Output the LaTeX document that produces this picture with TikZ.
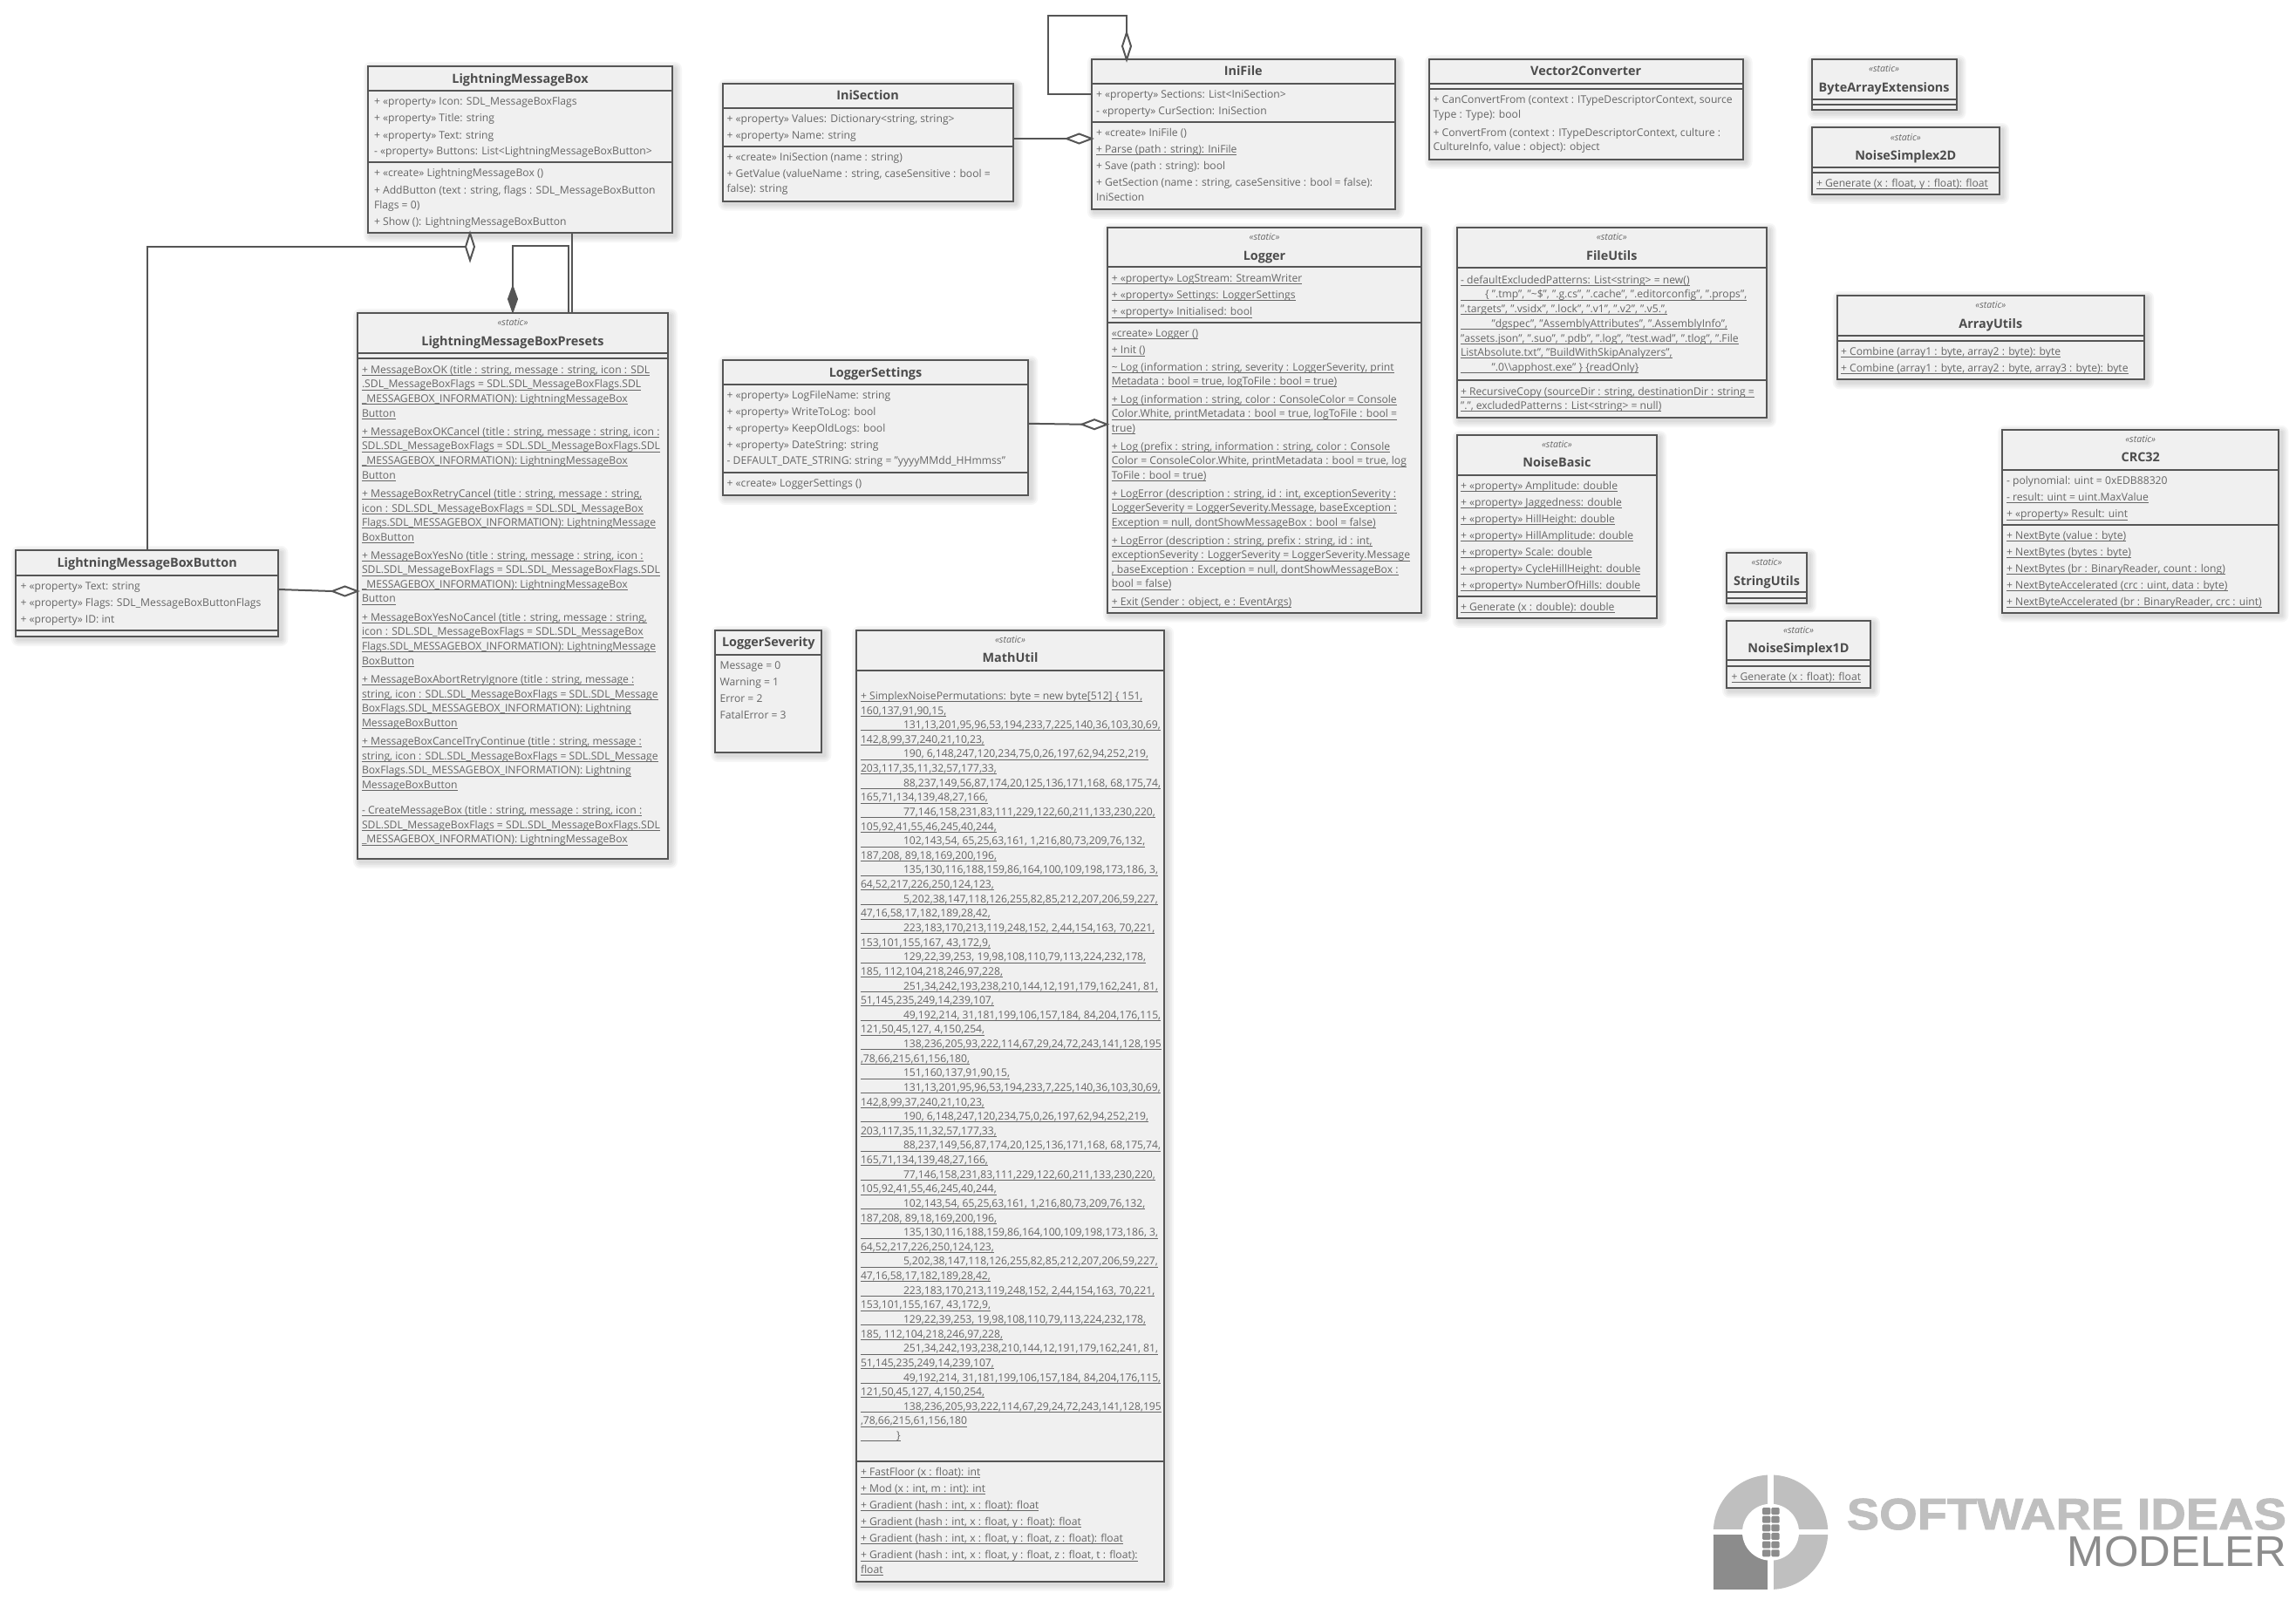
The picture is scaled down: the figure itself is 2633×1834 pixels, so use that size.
\documentclass[tikz,border=0pt]{standalone}
\usepackage{fontspec}
\usepackage{graphicx}
\setmainfont{Open Sans}
\newfontfamily\logofont{Liberation Sans}
\newfontfamily\logobold[FakeBold=1.6]{Liberation Sans Bold}
\usetikzlibrary{shapes.geometric}
\definecolor{ln}{HTML}{555555}
\definecolor{tx}{HTML}{666666}
\definecolor{tt}{HTML}{4C4C4C}
\definecolor{bg}{HTML}{F0F0F0}
\definecolor{lgA}{HTML}{BFBFBF}
\definecolor{lgB}{HTML}{8C8C8C}
\newcount\tcnt
\newsavebox\ulbox
\newcommand\uln[1]{\sbox\ulbox{#1}\rlap{\rule[-2.6pt]{\wd\ulbox}{0.8pt}}\usebox\ulbox}
\newcommand\tline[3]{\global\advance\tcnt by 1 \node[txt](t\the\tcnt) at (#1,#2+4) {#3};}
\newcommand\ut[3]{\tline{#1}{#2}{\uln{#3}}}
\newcommand\ttl[3]{\global\advance\tcnt by 1 \node[ttls](t\the\tcnt) at (#1.center |- 0,#2+5.5) {#3};}
\newcommand\ster[2]{\global\advance\tcnt by 1 \node[sters](t\the\tcnt) at (#1.center |- 0,#2+3.5) {«static»};}
\newcommand\cls[5]{%
  \foreach \d in {8,6,4,2}{\fill[shad,rounded corners=\d pt] (#2+3-\d,#3+3-\d) rectangle (#4+3+\d,#5+3+\d);}
  \node[cbox,minimum width={(#4-#2)*1pt},minimum height={(#5-#3)*1pt}] (#1) at ({(#2+#4)/2},{(#3+#5)/2}) {};}
\newcommand\hsep[2]{\draw[sepl] (#1.west |- 0,#2) -- (#1.east |- 0,#2);}
\newcommand\mline[2]{\ut{987}{798.4+16.63*#1}{#2}}
\newcommand\mlin[2]{\ut{987}{798.4+16.63*#1}{\hspace*{49pt}#2}}
\tikzset{
  txt/.style={anchor=base west,inner sep=0pt,outer sep=0pt,text=tx,font=\fontsize{12.15pt}{13pt}\selectfont},
  ttls/.style={anchor=base,inner sep=0pt,outer sep=0pt,text=tt,font=\fontsize{14.4pt}{16pt}\selectfont\bfseries},
  sters/.style={anchor=base,inner sep=0pt,outer sep=0pt,text=tx,font=\fontsize{10.6pt}{11pt}\selectfont\itshape},
  cbox/.style={draw=ln,fill=bg,line width=2pt,inner sep=0pt,outer sep=0pt,rectangle},
  sepl/.style={draw=ln,line width=2pt},
  shad/.style={fill=black,opacity=.035},
  conn/.style={draw=ln,line width=2pt,line join=miter},
  odia/.style={diamond,draw=ln,fill=white,line width=2pt,inner sep=0pt,outer sep=0pt},
  fdia/.style={diamond,draw=ln,fill=ln,line width=2pt,inner sep=0pt,outer sep=0pt},
  vdia/.style={minimum width=10pt,minimum height=31pt},
  hdia/.style={minimum width=29pt,minimum height=11pt},
  lgt/.style={anchor=base east,inner sep=0pt,outer sep=0pt},
}
\begin{document}
\begin{tikzpicture}[x=1pt,y=-1pt]
\useasboundingbox (0,0) rectangle (2633,1834);
\fill[white] (0,0) rectangle (2633,1834);

%% LightningMessageBox
\cls{lmb}{422}{76}{771}{267}
\hsep{lmb}{103.7}\hsep{lmb}{185.7}
\ttl{lmb}{89.5}{LightningMessageBox}
\tline{429}{116.7}{+ «property» Icon: SDL\_MessageBoxFlags}
\tline{429}{135.7}{+ «property» Title: string}
\tline{429}{155}{+ «property» Text: string}
\tline{429}{173.7}{- «property» Buttons: List<LightningMessageBoxButton>}
\tline{429}{198.7}{+ «create» LightningMessageBox ()}
\tline{429}{218}{+ AddButton (text : string, flags : SDL\_MessageBoxButton}
\tline{429}{235}{Flags = 0)}
\tline{429}{254.7}{+ Show (): LightningMessageBoxButton}

%% LightningMessageBoxPresets
\cls{pre}{410}{359}{766}{985}
\hsep{pre}{405}\hsep{pre}{410.7}
\ster{pre}{370}
\ttl{pre}{390.5}{LightningMessageBoxPresets}
\ut{415}{424.2}{+ MessageBoxOK (title : string, message : string, icon : SDL}
\ut{415}{440.8}{.SDL\_MessageBoxFlags = SDL.SDL\_MessageBoxFlags.SDL}
\ut{415}{457.4}{\_MESSAGEBOX\_INFORMATION): LightningMessageBox}
\ut{415}{474}{Button}
\ut{415}{495.3}{+ MessageBoxOKCancel (title : string, message : string, icon :}
\ut{415}{511.9}{SDL.SDL\_MessageBoxFlags = SDL.SDL\_MessageBoxFlags.SDL}
\ut{415}{528.5}{\_MESSAGEBOX\_INFORMATION): LightningMessageBox}
\ut{415}{545.1}{Button}
\ut{415}{566.4}{+ MessageBoxRetryCancel (title : string, message : string,}
\ut{415}{583}{icon : SDL.SDL\_MessageBoxFlags = SDL.SDL\_MessageBox}
\ut{415}{599.6}{Flags.SDL\_MESSAGEBOX\_INFORMATION): LightningMessage}
\ut{415}{616.2}{BoxButton}
\ut{415}{637.1}{+ MessageBoxYesNo (title : string, message : string, icon :}
\ut{415}{653.7}{SDL.SDL\_MessageBoxFlags = SDL.SDL\_MessageBoxFlags.SDL}
\ut{415}{670.3}{\_MESSAGEBOX\_INFORMATION): LightningMessageBox}
\ut{415}{686.9}{Button}
\ut{415}{708.3}{+ MessageBoxYesNoCancel (title : string, message : string,}
\ut{415}{724.9}{icon : SDL.SDL\_MessageBoxFlags = SDL.SDL\_MessageBox}
\ut{415}{741.5}{Flags.SDL\_MESSAGEBOX\_INFORMATION): LightningMessage}
\ut{415}{758.1}{BoxButton}
\ut{415}{779.4}{+ MessageBoxAbortRetryIgnore (title : string, message :}
\ut{415}{796}{string, icon : SDL.SDL\_MessageBoxFlags = SDL.SDL\_Message}
\ut{415}{812.6}{BoxFlags.SDL\_MESSAGEBOX\_INFORMATION): Lightning}
\ut{415}{829.2}{MessageBoxButton}
\ut{415}{850.5}{+ MessageBoxCancelTryContinue (title : string, message :}
\ut{415}{867.1}{string, icon : SDL.SDL\_MessageBoxFlags = SDL.SDL\_Message}
\ut{415}{883.7}{BoxFlags.SDL\_MESSAGEBOX\_INFORMATION): Lightning}
\ut{415}{900.3}{MessageBoxButton}
\ut{415}{929.6}{- CreateMessageBox (title : string, message : string, icon :}
\ut{415}{946.2}{SDL.SDL\_MessageBoxFlags = SDL.SDL\_MessageBoxFlags.SDL}
\ut{415}{962.8}{\_MESSAGEBOX\_INFORMATION): LightningMessageBox}

%% LightningMessageBoxButton
\cls{btn}{18}{631}{319.4}{730}
\hsep{btn}{660}\hsep{btn}{723}
\ttl{btn}{645}{LightningMessageBoxButton}
\tline{23.5}{672.5}{+ «property» Text: string}
\tline{23.5}{691.4}{+ «property» Flags: SDL\_MessageBoxButtonFlags}
\tline{23.5}{710.4}{+ «property» ID: int}

%% IniSection
\cls{isec}{828.7}{96}{1161.5}{230.5}
\hsep{isec}{124}\hsep{isec}{168}
\ttl{isec}{109.3}{IniSection}
\tline{833.6}{136.4}{+ «property» Values: Dictionary<string, string>}
\tline{833.6}{155.6}{+ «property» Name: string}
\tline{833.6}{180.4}{+ «create» IniSection (name : string)}
\tline{833.6}{199.7}{+ GetValue (valueName : string, caseSensitive : bool =}
\tline{833.6}{216.7}{false): string}

%% IniFile
\cls{ifil}{1252}{68.4}{1599.5}{240}
\hsep{ifil}{96}\hsep{ifil}{140}
\ttl{ifil}{81.3}{IniFile}
\tline{1257}{108.4}{+ «property» Sections: List<IniSection>}
\tline{1257}{127.6}{- «property» CurSection: IniSection}
\tline{1257}{152.4}{+ «create» IniFile ()}
\ut{1257}{171.3}{+ Parse (path : string): IniFile}
\tline{1257}{190.5}{+ Save (path : string): bool}
\tline{1257}{209.8}{+ GetSection (name : string, caseSensitive : bool = false):}
\tline{1257}{226.4}{IniSection}

%% Logger
\cls{lgr}{1270}{261}{1630}{702.5}
\hsep{lgr}{306}\hsep{lgr}{369.6}
\ster{lgr}{272}
\ttl{lgr}{293}{Logger}
\ut{1274.8}{319.6}{+ «property» LogStream: StreamWriter}
\ut{1274.8}{338.4}{+ «property» Settings: LoggerSettings}
\ut{1274.8}{357.7}{+ «property» Initialised: bool}
\ut{1274.8}{382.5}{«create» Logger ()}
\ut{1274.8}{401.7}{+ Init ()}
\ut{1274.8}{421}{\textasciitilde{} Log (information : string, severity : LoggerSeverity, print}
\ut{1274.8}{437.6}{Metadata : bool = true, logToFile : bool = true)}
\ut{1274.8}{458.2}{+ Log (information : string, color : ConsoleColor = Console}
\ut{1274.8}{474.8}{Color.White, printMetadata : bool = true, logToFile : bool =}
\ut{1274.8}{491.3}{true)}
\ut{1274.8}{512.4}{+ Log (prefix : string, information : string, color : Console}
\ut{1274.8}{528.9}{Color = ConsoleColor.White, printMetadata : bool = true, log}
\ut{1274.8}{545.5}{ToFile : bool = true)}
\ut{1274.8}{566.1}{+ LogError (description : string, id : int, exceptionSeverity :}
\ut{1274.8}{582.6}{LoggerSeverity = LoggerSeverity.Message, baseException :}
\ut{1274.8}{599.2}{Exception = null, dontShowMessageBox : bool = false)}
\ut{1274.8}{620.3}{+ LogError (description : string, prefix : string, id : int,}
\ut{1274.8}{636.8}{exceptionSeverity : LoggerSeverity = LoggerSeverity.Message}
\ut{1274.8}{653.4}{, baseException : Exception = null, dontShowMessageBox :}
\ut{1274.8}{669.9}{bool = false)}
\ut{1274.8}{690.5}{+ Exit (Sender : object, e : EventArgs)}

%% LoggerSettings
\cls{lset}{828.7}{412.8}{1179.4}{568}
\hsep{lset}{440.8}\hsep{lset}{541.8}
\ttl{lset}{426.5}{LoggerSettings}
\tline{833.6}{453.6}{+ «property» LogFileName: string}
\tline{833.6}{472.5}{+ «property» WriteToLog: bool}
\tline{833.6}{491.3}{+ «property» KeepOldLogs: bool}
\tline{833.6}{510.6}{+ «property» DateString: string}
\tline{833.6}{528.9}{- DEFAULT\_DATE\_STRING: string = "yyyyMMdd\_HHmmss"}
\tline{833.6}{554.6}{+ «create» LoggerSettings ()}

%% Vector2Converter
\cls{v2c}{1638.9}{68}{1998.5}{182.7}
\hsep{v2c}{96}\hsep{v2c}{102}
\ttl{v2c}{81.3}{Vector2Converter}
\tline{1643.5}{114.8}{+ CanConvertFrom (context : ITypeDescriptorContext, source}
\tline{1643.5}{131.8}{Type : Type): bool}
\tline{1643.5}{152}{+ ConvertFrom (context : ITypeDescriptorContext, culture :}
\tline{1643.5}{168.5}{CultureInfo, value : object): object}

%% ByteArrayExtensions
\cls{bae}{2077.6}{68}{2243.6}{126}
\hsep{bae}{113.9}\hsep{bae}{119.8}
\ster{bae}{79.4}
\ttl{bae}{99.6}{ByteArrayExtensions}

%% NoiseSimplex2D
\cls{ns2}{2077.6}{146}{2293}{223}
\hsep{ns2}{191.9}\hsep{ns2}{197.9}
\ster{ns2}{157.5}
\ttl{ns2}{177.7}{NoiseSimplex2D}
\ut{2083}{210.3}{+ Generate (x : float, y : float): float}

%% FileUtils
\cls{fut}{1670.5}{261}{2026}{479}
\hsep{fut}{306.7}\hsep{fut}{435.7}
\ster{fut}{272}
\ttl{fut}{292.5}{FileUtils}
\ut{1675}{321.4}{- defaultExcludedPatterns: List<string> = new()}
\ut{1675}{337.9}{\hspace*{28pt}\{ ".tmp", "\textasciitilde\$", ".g.cs", ".cache", ".editorconfig", ".props",}
\ut{1675}{354.5}{".targets", ".vsidx", ".lock", ".v1", ".v2", ".v5.",}
\ut{1675}{371.4}{\hspace*{35.6pt}"dgspec", "AssemblyAttributes", ".AssemblyInfo",}
\ut{1675}{388}{"assets.json", ".suo", ".pdb", ".log", "test.wad", ".tlog", ".File}
\ut{1675}{404.5}{ListAbsolute.txt", "BuildWithSkipAnalyzers",}
\ut{1675}{421}{\hspace*{35.6pt}".0\textbackslash\textbackslash apphost.exe" \} \{readOnly\}}
\ut{1675}{449}{+ RecursiveCopy (sourceDir : string, destinationDir : string =}
\ut{1675}{465.6}{".", excludedPatterns : List<string> = null)}

%% NoiseBasic
\cls{nbs}{1670.5}{499}{1900.4}{709}
\hsep{nbs}{545}\hsep{nbs}{683.6}
\ster{nbs}{510}
\ttl{nbs}{530.3}{NoiseBasic}
\ut{1675}{557.4}{+ «property» Amplitude: double}
\ut{1675}{576.2}{+ «property» Jaggedness: double}
\ut{1675}{595.5}{+ «property» HillHeight: double}
\ut{1675}{614.3}{+ «property» HillAmplitude: double}
\ut{1675}{633.6}{+ «property» Scale: double}
\ut{1675}{652.4}{+ «property» CycleHillHeight: double}
\ut{1675}{671.2}{+ «property» NumberOfHills: double}
\ut{1675}{696.5}{+ Generate (x : double): double}

%% ArrayUtils
\cls{aut}{2106.6}{338.8}{2459}{435.3}
\hsep{aut}{384.8}\hsep{aut}{390.7}
\ster{aut}{350.3}
\ttl{aut}{370.5}{ArrayUtils}
\ut{2111}{403}{+ Combine (array1 : byte, array2 : byte): byte}
\ut{2111}{422.4}{+ Combine (array1 : byte, array2 : byte, array3 : byte): byte}

%% CRC32
\cls{crc}{2296}{493}{2613.4}{702.7}
\hsep{crc}{539}\hsep{crc}{602}
\ster{crc}{504.3}
\ttl{crc}{524.3}{CRC32}
\tline{2301}{551.3}{- polynomial: uint = 0xEDB88320}
\ut{2301}{570.3}{- result: uint = uint.MaxValue}
\ut{2301}{589.7}{+ «property» Result: uint}
\ut{2301}{614.3}{+ NextByte (value : byte)}
\ut{2301}{633.3}{+ NextBytes (bytes : byte)}
\ut{2301}{652.3}{+ NextBytes (br : BinaryReader, count : long)}
\ut{2301}{671.3}{+ NextByteAccelerated (crc : uint, data : byte)}
\ut{2301}{690.3}{+ NextByteAccelerated (br : BinaryReader, crc : uint)}

%% StringUtils
\cls{sut}{1980}{633.7}{2072}{692}
\hsep{sut}{679.3}\hsep{sut}{685.7}
\ster{sut}{645.3}
\ttl{sut}{665.7}{StringUtils}

%% NoiseSimplex1D
\cls{ns1}{1980}{711.7}{2145}{789.3}
\hsep{ns1}{757.3}\hsep{ns1}{764}
\ster{ns1}{723.3}
\ttl{ns1}{743.3}{NoiseSimplex1D}
\ut{1985.5}{776.3}{+ Generate (x : float): float}

%% LoggerSeverity
\cls{lsev}{820.3}{723}{942.4}{863}
\hsep{lsev}{750.9}
\ttl{lsev}{736.4}{LoggerSeverity}
\tline{825.6}{763}{Message = 0}
\tline{825.6}{782.3}{Warning = 1}
\tline{825.6}{801}{Error = 2}
\tline{825.6}{820}{FatalError = 3}

%% MathUtil
\cls{mut}{982}{723}{1335}{1813.6}
\hsep{mut}{769.3}\hsep{mut}{1675.8}
\ster{mut}{734.4}
\ttl{mut}{754.3}{MathUtil}
\mline{0}{+ SimplexNoisePermutations: byte = new byte[512] \{ 151,}
\mline{1}{160,137,91,90,15,}
\mlin{2}{131,13,201,95,96,53,194,233,7,225,140,36,103,30,69,}
\mline{3}{142,8,99,37,240,21,10,23,}
\mlin{4}{190, 6,148,247,120,234,75,0,26,197,62,94,252,219,}
\mline{5}{203,117,35,11,32,57,177,33,}
\mlin{6}{88,237,149,56,87,174,20,125,136,171,168, 68,175,74,}
\mline{7}{165,71,134,139,48,27,166,}
\mlin{8}{77,146,158,231,83,111,229,122,60,211,133,230,220,}
\mline{9}{105,92,41,55,46,245,40,244,}
\mlin{10}{102,143,54, 65,25,63,161, 1,216,80,73,209,76,132,}
\mline{11}{187,208, 89,18,169,200,196,}
\mlin{12}{135,130,116,188,159,86,164,100,109,198,173,186, 3,}
\mline{13}{64,52,217,226,250,124,123,}
\mlin{14}{5,202,38,147,118,126,255,82,85,212,207,206,59,227,}
\mline{15}{47,16,58,17,182,189,28,42,}
\mlin{16}{223,183,170,213,119,248,152, 2,44,154,163, 70,221,}
\mline{17}{153,101,155,167, 43,172,9,}
\mlin{18}{129,22,39,253, 19,98,108,110,79,113,224,232,178,}
\mline{19}{185, 112,104,218,246,97,228,}
\mlin{20}{251,34,242,193,238,210,144,12,191,179,162,241, 81,}
\mline{21}{51,145,235,249,14,239,107,}
\mlin{22}{49,192,214, 31,181,199,106,157,184, 84,204,176,115,}
\mline{23}{121,50,45,127, 4,150,254,}
\mlin{24}{138,236,205,93,222,114,67,29,24,72,243,141,128,195}
\mline{25}{,78,66,215,61,156,180,}
\mlin{26}{151,160,137,91,90,15,}
\mlin{27}{131,13,201,95,96,53,194,233,7,225,140,36,103,30,69,}
\mline{28}{142,8,99,37,240,21,10,23,}
\mlin{29}{190, 6,148,247,120,234,75,0,26,197,62,94,252,219,}
\mline{30}{203,117,35,11,32,57,177,33,}
\mlin{31}{88,237,149,56,87,174,20,125,136,171,168, 68,175,74,}
\mline{32}{165,71,134,139,48,27,166,}
\mlin{33}{77,146,158,231,83,111,229,122,60,211,133,230,220,}
\mline{34}{105,92,41,55,46,245,40,244,}
\mlin{35}{102,143,54, 65,25,63,161, 1,216,80,73,209,76,132,}
\mline{36}{187,208, 89,18,169,200,196,}
\mlin{37}{135,130,116,188,159,86,164,100,109,198,173,186, 3,}
\mline{38}{64,52,217,226,250,124,123,}
\mlin{39}{5,202,38,147,118,126,255,82,85,212,207,206,59,227,}
\mline{40}{47,16,58,17,182,189,28,42,}
\mlin{41}{223,183,170,213,119,248,152, 2,44,154,163, 70,221,}
\mline{42}{153,101,155,167, 43,172,9,}
\mlin{43}{129,22,39,253, 19,98,108,110,79,113,224,232,178,}
\mline{44}{185, 112,104,218,246,97,228,}
\mlin{45}{251,34,242,193,238,210,144,12,191,179,162,241, 81,}
\mline{46}{51,145,235,249,14,239,107,}
\mlin{47}{49,192,214, 31,181,199,106,157,184, 84,204,176,115,}
\mline{48}{121,50,45,127, 4,150,254,}
\mlin{49}{138,236,205,93,222,114,67,29,24,72,243,141,128,195}
\mline{50}{,78,66,215,61,156,180}
\ut{987}{1646.4}{\hspace*{41pt}\}}
\ut{987}{1688.1}{+ FastFloor (x : float): int}
\ut{987}{1707.2}{+ Mod (x : int, m : int): int}
\ut{987}{1726.3}{+ Gradient (hash : int, x : float): float}
\ut{987}{1745.4}{+ Gradient (hash : int, x : float, y : float): float}
\ut{987}{1764.5}{+ Gradient (hash : int, x : float, y : float, z : float): float}
\ut{987}{1783.9}{+ Gradient (hash : int, x : float, y : float, z : float, t : float):}
\ut{987}{1800.5}{float}

%% Connectors
\node[odia,vdia] (d1) at (539,283) {};
\draw[conn] (btn.north) |- (d1.west);
\node[fdia,vdia,minimum height=28pt] (d2) at (588,343) {};
\coordinate (c1) at (652,282);
\draw[conn] (d2.north) |- (c1) -- (c1 |- pre.north);
\coordinate (c2) at (655.5,300);
\draw[conn] (c2 |- lmb.south) -- (c2 |- pre.north);
\node[odia,hdia] (d3) at (395.5,678) {};
\draw[conn] (btn.east |- 0,676) -- (d3.west);
\node[odia,hdia] (d4) at (1237.5,159) {};
\draw[conn] (isec.east |- d4.west) -- (d4.west);
\node[odia,hdia] (d5) at (1255,486.7) {};
\draw[conn] (lset.east |- 0,485.8) -- (d5.west);
\node[odia,vdia] (d6) at (1292,53) {};
\coordinate (c3) at (1202,18);
\draw[conn] (ifil.west |- 0,108) -| (c3) -| (d6.north);

%% Logo
\fill[lgA] (2030.5,1757.2) circle[radius=65.7];
\fill[lgB] (1964.8,1757.2) rectangle (2030.5,1822.9);
\fill[white] (2030.5,1757.2) circle[radius=32.5];
\fill[white] (2027.3,1690) rectangle (2033.7,1824);
\fill[white] (1960,1753.5) rectangle (2100,1760);
\foreach \r in {0,...,5}{
  \fill[lgB,rounded corners=1.2pt] (2021,1729+9.65*\r) rectangle (2030.3,1737+9.65*\r);
  \fill[lgB,rounded corners=1.2pt] (2031.4,1729+9.65*\r) rectangle (2040.5,1737+9.65*\r);
}
\node[lgt,text=lgA,font=\logobold\fontsize{50.7pt}{52pt}\selectfont] (lg1) at (2622,1754) {\scalebox{1.105}[1]{SOFTWARE IDEAS}};
\node[lgt,text=lgB,font=\logofont\fontsize{49.3pt}{52pt}\selectfont] (lg2) at (2622,1796) {\scalebox{1.03}[1]{MODELER}};
\end{tikzpicture}
\end{document}
